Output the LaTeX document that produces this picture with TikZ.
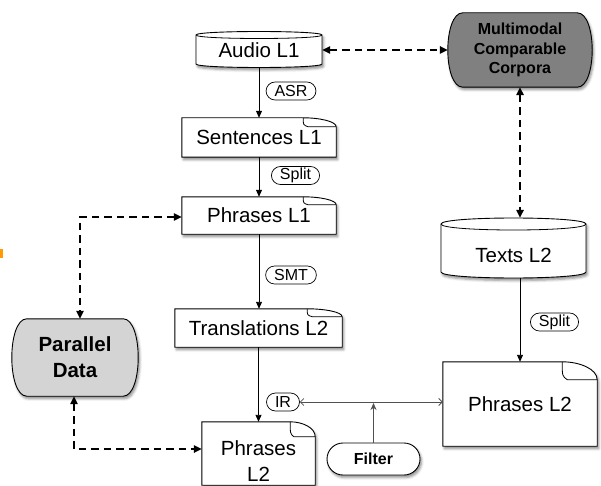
\documentclass[tikz,border=0pt]{standalone}
\usepackage{fontspec}
\setmainfont{Liberation Sans}
\usetikzlibrary{arrows.meta,calc,shadows.blur,backgrounds}

\definecolor{corpusgray}{HTML}{808080}
\definecolor{datagray}{HTML}{D4D4D4}
\definecolor{markorange}{HTML}{FF9A00}
\definecolor{thinline}{HTML}{505050}

\tikzset{
  boxtext/.style={inner sep=0pt, font=\fontsize{20.5}{26}\selectfont},
  shapenode/.style={inner sep=0pt, draw=none},
  softshadow/.style={blur shadow={shadow xshift=1.5pt, shadow yshift=-2.5pt,
      shadow blur radius=2.5pt, shadow opacity=45}},
  outline/.style={draw=black, line width=0.9pt, fill=white, softshadow},
  foldline/.style={draw=black, line width=0.8pt},
  tag/.style={draw=black, line width=0.7pt, fill=white, rounded corners=9pt,
      minimum height=18pt, inner xsep=8.5pt, inner ysep=0pt,
      font=\fontsize{16}{18}\selectfont},
  flow/.style={draw=black, line width=0.9pt, -{Triangle[length=7pt,width=6pt]}},
  link/.style={draw=black, line width=1.5pt, dash pattern=on 7.5pt off 5pt,
      {Triangle[length=8pt,width=7.5pt]}-{Triangle[length=8pt,width=7.5pt]}},
  irline/.style={draw=thinline, line width=0.8pt,
      {Straight Barb[length=3.5pt,width=7pt]}-{Straight Barb[length=3.5pt,width=7pt]}},
  filterarrow/.style={draw=thinline, line width=0.8pt, -{Stealth[length=7pt,width=6pt]}},
}

% document box with a folded top-right corner (#2 fold width, #3 fold height)
\newcommand\docoutline[3]{%
  \path[outline] (#1.north west) -- ($(#1.north east)+(-#2,0)$)
    .. controls ($(#1.north east)+(-0.5*#2,0)$) and ($(#1.north east)+(0,0.4*#3)$)
    .. ($(#1.north east)+(0,#3)$) -- (#1.south east) -- (#1.south west) -- cycle;
  \draw[foldline] ($(#1.north east)+(-#2,0)$)
    .. controls ($(#1.north east)+(-#2,0.8*#3)$) .. ($(#1.north east)+(-0.85*#2,#3)$)
    -- ($(#1.north east)+(0,#3)$);
}
% cylinder: left x, right x, top y, bottom y, ellipse half-height
\newcommand\cylinderoutline[5]{%
  \path[outline] (#1,#3) -- (#1,#4)
    .. controls (#1,#4+1.333*#5) and (#2,#4+1.333*#5) .. (#2,#4)
    -- (#2,#3)
    .. controls (#2,#3-1.333*#5) and (#1,#3-1.333*#5) .. (#1,#3) -- cycle;
  \draw[foldline] (#1,#3) .. controls (#1,#3+1.333*#5) and (#2,#3+1.333*#5) .. (#2,#3);
}
% terminal shape with bulging sides (#2 inset, #3 fill)
\newcommand\terminaloutline[3]{%
  \path[outline, fill=#3] ($(#1.north west)+(#2,0)$) -- ($(#1.north east)+(-#2,0)$)
    .. controls ($(#1.north east)+(#2/3,0)$) and ($(#1.south east)+(#2/3,0)$)
    .. ($(#1.south east)+(-#2,0)$) -- ($(#1.south west)+(#2,0)$)
    .. controls ($(#1.south west)+(-#2/3,0)$) and ($(#1.north west)+(-#2/3,0)$)
    .. ($(#1.north west)+(#2,0)$) -- cycle;
}

\begin{document}
\begin{tikzpicture}[x=1pt,y=-1pt]
\useasboundingbox (0,0) rectangle (601,486);

% main column
\node[shapenode, boxtext, minimum width=126pt, minimum height=36pt] (audio) at (259,50) {Audio L1};
\node[shapenode, boxtext, minimum width=154pt, minimum height=39pt] (sent) at (259,137.5) {Sentences L1};
\node[shapenode, boxtext, minimum width=154pt, minimum height=37pt] (phr1) at (259,215.5) {Phrases L1};
\node[shapenode, boxtext, minimum width=167pt, minimum height=38pt] (trans) at (258.5,328) {Translations L2};
\node[shapenode, minimum width=113pt, minimum height=63pt] (pl2) at (258.5,453.5) {};
\node[boxtext, align=center] (pl2txt) at (258.5,461) {Phrases\\L2};

% right column
\node[shapenode, font=\bfseries\fontsize{16}{19.5}\selectfont, align=center,
      minimum width=144pt, minimum height=74pt] (mmc) at (520,50) {Multimodal\\Comparable\\Corpora};
\node[shapenode, minimum width=145pt, minimum height=60pt] (texts) at (513.5,248) {};
\node[boxtext] (textstxt) at (513.5,255) {Texts L2};
\node[shapenode, boxtext, minimum width=154pt, minimum height=84pt] (pr2) at (520,404) {Phrases L2};

% left side
\node[shapenode, font=\bfseries\fontsize{20.5}{26}\selectfont, align=center,
      minimum width=126pt, minimum height=77pt] (par) at (75,357.5) {Parallel\\Data};

\node[draw=black, line width=0.9pt, fill=white, softshadow, rounded corners=16pt,
      minimum width=93pt, minimum height=32pt, inner sep=0pt,
      font=\bfseries\fontsize{16}{19}\selectfont] (filter) at (373.5,459) {Filter};

% outlines behind the texts
\begin{scope}[on background layer]
  \cylinderoutline{196}{322}{35}{64}{3.5}
  \docoutline{sent}{33}{9}
  \docoutline{phr1}{33}{8}
  \docoutline{trans}{35}{8}
  \docoutline{pl2}{25}{15}
  \terminaloutline{mmc}{15}{corpusgray}
  \cylinderoutline{441}{586}{224}{272}{6}
  \docoutline{pr2}{35}{18}
  \terminaloutline{par}{15}{datagray}
\end{scope}

% processing steps
\draw[flow] (audio.south) -- (sent.north);
\draw[flow] (sent.south) -- (phr1.north);
\draw[flow] (phr1.south) -- (phr1.south |- trans.north);
\draw[flow] (trans.south) -- (trans.south |- pl2.north);
\draw[flow] (pr2.north |- texts.south) -- (pr2.north);

\node[tag] (asr) at (291,91) {ASR};
\node[tag] (split1) at (295.5,175.5) {Split};
\node[tag] (smt) at (291,275) {SMT};
\node[tag] (ir) at (283,402) {IR};
\node[tag] (split2) at (554.5,322) {Split};

% retrieval and filtering
\draw[irline] (ir.east) -- (ir.east -| pr2.west);
\draw[filterarrow] (filter.north) -- ([yshift=-1pt]filter.north |- ir.east);

% resource links
\draw[link] (audio.east) -- (mmc.west);
\draw[link] (mmc.south) -- (mmc.south |- texts.north);
\draw[link] ([yshift=-1.5pt]phr1.west) -| ([xshift=5pt]par.north);
\draw[link] ([xshift=-1pt]par.south) |- ([yshift=4.5pt]pl2.west);

% small orange marker at the left edge
\fill[markorange] (0,249) rectangle (3,258);
\end{tikzpicture}
\end{document}
